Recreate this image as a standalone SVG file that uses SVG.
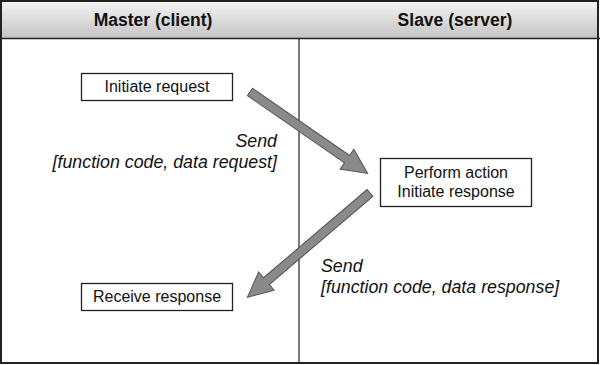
<svg xmlns="http://www.w3.org/2000/svg" width="600" height="365" viewBox="0 0 600 365">
<defs>
<linearGradient id="hdr" x1="0" y1="0" x2="0" y2="1">
<stop offset="0" stop-color="#f4f4f4"/>
<stop offset="1" stop-color="#c4c4c4"/>
</linearGradient>
<style>
.hd{font-family:"Liberation Sans",Arial,sans-serif;font-weight:bold;font-size:17.5px;fill:#111;text-anchor:middle}
.bx{fill:#fff;stroke:#222;stroke-width:1.3}
.bt{font-family:"Liberation Sans",Arial,sans-serif;font-size:16px;fill:#111;text-anchor:middle}
.lb{font-family:"Liberation Sans",Arial,sans-serif;font-style:italic;font-size:17.8px;fill:#111}
.ar{fill:#8a8a8a;stroke:#555;stroke-width:1}
</style>
</defs>
<rect x="0" y="0" width="600" height="365" fill="#fff"/>
<rect x="1" y="1" width="597" height="37" fill="url(#hdr)"/>
<g id="lanes" fill="none" stroke="#222">
<rect x="1" y="1" width="597" height="362" stroke-width="2"/>
<line x1="0" y1="38.5" x2="600" y2="38.5" stroke-width="1.5"/>
<line x1="299" y1="38" x2="299" y2="364" stroke-width="1.2"/>
</g>
<text class="hd" x="153" y="26">Master (client)</text>
<text class="hd" x="455" y="26">Slave (server)</text>
<g id="initiate">
<rect class="bx" x="81.5" y="73.5" width="151" height="27"/>
<text class="bt" x="157" y="92">Initiate request</text>
</g>
<g id="perform">
<rect class="bx" x="380.5" y="158.5" width="151" height="48"/>
<text class="bt" x="456" y="178">Perform action</text>
<text class="bt" x="456" y="197">Initiate response</text>
</g>
<g id="receive">
<rect class="bx" x="81.5" y="283.5" width="151" height="27"/>
<text class="bt" x="157" y="302">Receive response</text>
</g>
<g id="connectors">
<g transform="translate(250,92) rotate(34.7)">
<polygon class="ar" points="0,-4.5 118,-4.5 118,-12 143,0 118,12 118,4.5 0,4.5"/>
</g>
<g transform="translate(370,193) rotate(139.6)">
<polygon class="ar" points="0,-4.5 136,-4.5 136,-12 161,0 136,12 136,4.5 0,4.5"/>
</g>
</g>
<g id="labels">
<text class="lb" x="277" y="147" text-anchor="end">Send</text>
<text class="lb" x="277" y="168" text-anchor="end">[function code, data request]</text>
<text class="lb" x="321" y="272">Send</text>
<text class="lb" x="321" y="293">[function code, data response]</text>
</g>
</svg>
